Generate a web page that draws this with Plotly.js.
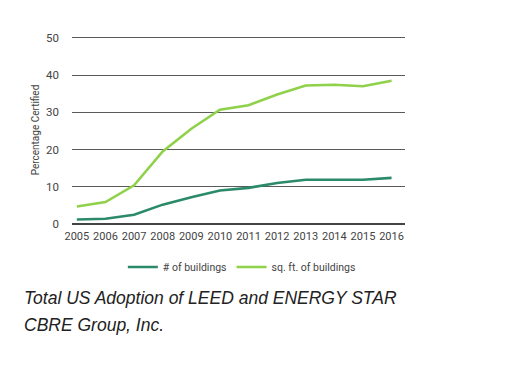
<!DOCTYPE html>
<html>
<head>
<meta charset="utf-8">
<script src="https://cdn.plot.ly/plotly-3.0.1.min.js"></script>
<style>
html,body{margin:0;padding:0;background:#fff;}
#chart{width:507px;height:372px;}
</style>
</head>
<body>
<div id="chart"></div>
<script>
const years = ['2005','2006','2007','2008','2009','2010','2011','2012','2013','2014','2015','2016'];
const numBuildings = [1.2, 1.4, 2.5, 5.2, 7.2, 9.0, 9.7, 11.0, 11.9, 11.9, 11.9, 12.4];
const sqftBuildings = [4.7, 5.9, 10.4, 19.5, 25.6, 30.7, 31.9, 34.8, 37.2, 37.4, 37.0, 38.5];
const seriesNames = ['# of buildings', 'sq. ft. of buildings'];
const yTicks = [0, 10, 20, 30, 40, 50];

const condensed = 'Roboto, "Liberation Sans", sans-serif';

const traces = [
  {x: years, y: numBuildings, name: seriesNames[0], type: 'scatter', mode: 'lines',
   line: {color: '#2b8a68', width: 2.6}},
  {x: years, y: sqftBuildings, name: seriesNames[1], type: 'scatter', mode: 'lines',
   line: {color: '#8fd14a', width: 2.6}}
];

const layout = {
  width: 507, height: 372,
  margin: {l: 72, r: 102, t: 36, b: 148},
  paper_bgcolor: '#fff', plot_bgcolor: '#fff',
  showlegend: true,
  legend: {orientation: 'h', x: 0.51, xanchor: 'center', y: -0.229, yanchor: 'middle',
           font: {family: condensed, size: 10.5, color: '#444'}, itemwidth: 30, tracegroupgap: 0},
  xaxis: {type: 'category', range: [-0.17, 11.47], showgrid: false, zeroline: false,
          showline: false, ticks: '', tickangle: 0, ticklabelstandoff: 4,
          tickfont: {family: condensed, size: 11, color: '#444'},
          fixedrange: true},
  yaxis: {range: [0, 50.5], tickvals: yTicks, ticktext: yTicks.map(String),
          showgrid: true, gridcolor: '#5a5a5a', gridwidth: 1,
          zeroline: true, zerolinecolor: '#444', zerolinewidth: 1.5,
          ticks: '', ticklabelstandoff: 12,
          tickfont: {family: condensed, size: 11.5, color: '#444'},
          title: {text: 'Percentage Certified', standoff: 4, font: {family: condensed, size: 10, color: '#444'}}},
  annotations: [
    {text: 'Total US Adoption of LEED and ENERGY STAR', xref: 'paper', yref: 'paper',
     x: -0.149, xanchor: 'left', y: -0.394, yanchor: 'middle', showarrow: false,
     font: {family: 'Liberation Sans, Arial, sans-serif', size: 17.5, color: '#222', style: 'italic'}},
    {text: 'CBRE Group, Inc.', xref: 'paper', yref: 'paper',
     x: -0.149, xanchor: 'left', y: -0.537, yanchor: 'middle', showarrow: false,
     font: {family: 'Liberation Sans, Arial, sans-serif', size: 17.5, color: '#222', style: 'italic'}}
  ]
};

Plotly.newPlot('chart', traces, layout, {displayModeBar: false, staticPlot: true});
</script>
</body>
</html>
